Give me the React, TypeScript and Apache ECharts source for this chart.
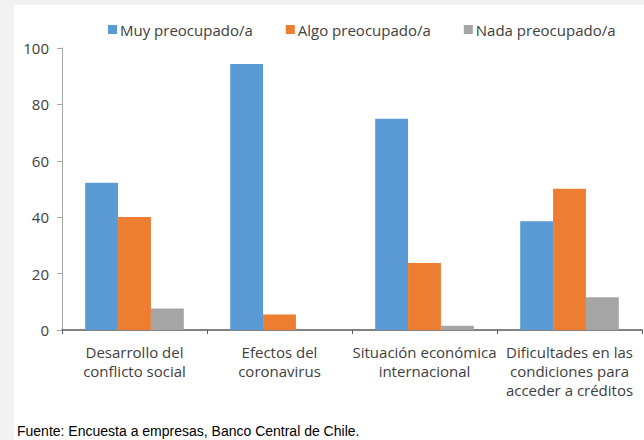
import React, { useEffect, useRef } from "react";
import * as echarts from "echarts";

const categories = [
  "Desarrollo del\nconflicto social",
  "Efectos del\ncoronavirus",
  "Situación económica\ninternacional",
  "Dificultades en las\ncondiciones para\nacceder a créditos",
];
const seriesNames = ["Muy preocupado/a", "Algo preocupado/a", "Nada preocupado/a"];
const muy = [52.2, 94.3, 74.9, 38.6];
const algo = [40.1, 5.5, 23.8, 50.1];
const nada = [7.6, 0, 1.5, 11.6];
const yTicks = { min: 0, max: 100, interval: 20 };
const footer = "Fuente: Encuesta a empresas, Banco Central de Chile.";

const colors = ["#5b9bd5", "#ed7d31", "#a5a5a5"];
const FONT = "'Segoe UI', 'Open Sans', 'Noto Sans', sans-serif";

export default function App() {
  const ref = useRef<HTMLDivElement>(null);
  useEffect(() => {
    if (!ref.current) return;
    const chart = echarts.init(ref.current, undefined, { renderer: "svg" });
    const values = [muy, algo, nada];
    chart.setOption({
      animation: false,
      backgroundColor: "#ffffff",
      textStyle: { fontFamily: FONT },
      color: colors,
      legend: {
        top: 12,
        left: 89,
        itemWidth: 9,
        itemHeight: 9,
        itemGap: 33,
        icon: "rect",
        textStyle: { fontSize: 15, color: "#404040", fontFamily: FONT, padding: [0, 0, 0, -2] },
        data: seriesNames,
      },
      grid: { left: 48, right: 2, top: 43, bottom: 110, containLabel: false },
      xAxis: {
        type: "category",
        data: categories,
        axisLine: { lineStyle: { color: "#595959", width: 1.5 } },
        axisTick: { show: true, length: 4, lineStyle: { color: "#595959" } },
        axisLabel: {
          interval: 0,
          margin: 12,
          fontSize: 15,
          lineHeight: 19,
          color: "#404040",
          fontFamily: FONT,
        },
      },
      yAxis: {
        type: "value",
        min: yTicks.min,
        max: yTicks.max,
        interval: yTicks.interval,
        splitLine: { show: false },
        axisLine: { show: true, lineStyle: { color: "#a6a6a6" } },
        axisTick: { show: true, length: 5, lineStyle: { color: "#a6a6a6" } },
        axisLabel: { fontSize: 15, color: "#404040", margin: 13, fontFamily: FONT },
      },
      series: seriesNames.map((name, i) => ({
        name,
        type: "bar",
        data: values[i],
        barGap: "0%",
        barCategoryGap: "32%",
        itemStyle: { color: colors[i] },
      })),
      graphic: [
        {
          type: "text",
          left: 3,
          top: 419,
          style: {
            text: footer,
            fontSize: 14,
            fill: "#000000",
            fontFamily: "'Liberation Sans', Arial, sans-serif",
          },
        },
      ],
    });
    return () => chart.dispose();
  }, []);
  return (
    <div style={{ position: "fixed", left: 0, top: 0, width: 644, height: 440, background: "#f2f2f2" }}>
      <div ref={ref} style={{ position: "absolute", left: 14, top: 5, width: 630, height: 435 }} />
    </div>
  );
}
